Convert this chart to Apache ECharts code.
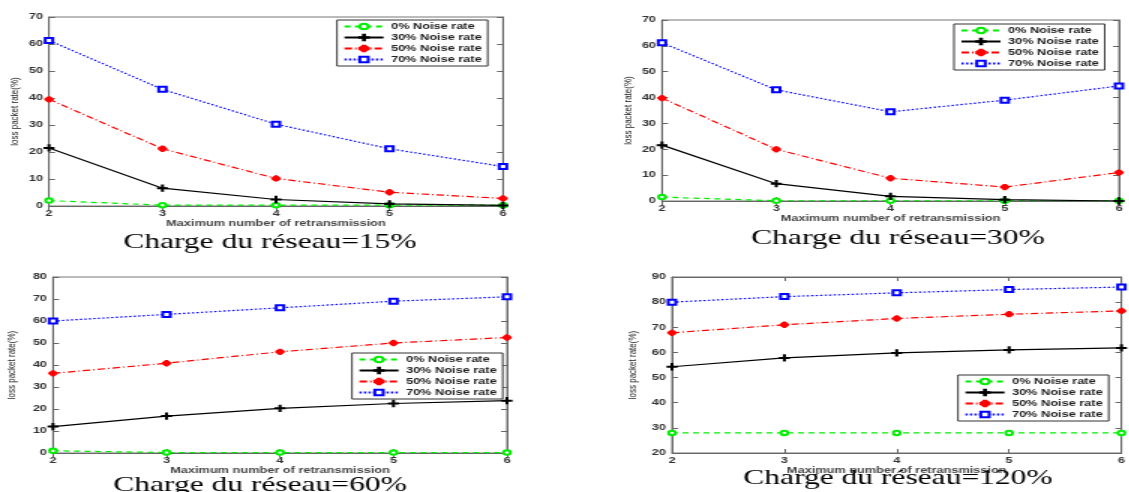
<!DOCTYPE html>
<html>
<head>
<meta charset="utf-8">
<script src="https://cdn.jsdelivr.net/npm/echarts@6/dist/echarts.min.js"></script>
<style>
  html, body { margin: 0; padding: 0; background: #fff; overflow: hidden; }
  #main { height: 492px; transform-origin: 0 0; }
</style>
</head>
<body>
<div id="main"></div>
<script>
// the figure is stretched horizontally, so draw narrow and scale on x
const SX = 1.5

const retrans = [2, 3, 4, 5, 6]
const noiseNames = ['0% Noise rate', '30% Noise rate', '50% Noise rate', '70% Noise rate']
const chartTitles = ['Charge du réseau=15%', 'Charge du réseau=30%', 'Charge du réseau=60%', 'Charge du réseau=120%']

// charge 15%
const load15_0 = [2, 0.3, 0.3, 0.3, 0.3]
const load15_30 = [21.5, 6.6, 2.4, 0.8, 0.2]
const load15_50 = [39.5, 21.2, 10.2, 5.1, 2.8]
const load15_70 = [61.3, 43.2, 30.3, 21.2, 14.6]
// charge 30%
const load30_0 = [1.5, 0.1, 0.1, 0.1, 0.1]
const load30_30 = [21.6, 6.7, 1.8, 0.5, 0]
const load30_50 = [39.8, 20, 8.8, 5.4, 11]
const load30_70 = [61.2, 43, 34.5, 39, 44.5]
// charge 60%
const load60_0 = [1, 0.2, 0.2, 0.2, 0.2]
const load60_30 = [12, 16.8, 20.3, 22.5, 23.8]
const load60_50 = [36.2, 40.8, 46, 50, 52.5]
const load60_70 = [60, 63, 66, 69, 71]
// charge 120%
const load120_0 = [28, 28, 28, 28, 28]
const load120_30 = [54.3, 57.8, 59.8, 61, 61.8]
const load120_50 = [67.8, 71, 73.5, 75.2, 76.5]
const load120_70 = [80, 82.2, 83.7, 85, 86]

const yMins = [0, 0, 0, 20]
const yMaxs = [70, 70, 80, 90]
const yStep = 10

const chartData = [
  [load15_0, load15_30, load15_50, load15_70],
  [load30_0, load30_30, load30_50, load30_70],
  [load60_0, load60_30, load60_50, load60_70],
  [load120_0, load120_30, load120_50, load120_70]
]

// layout in final (scaled) pixels: left, top, width, height
const grids = [
  [49, 17, 454, 189],
  [662, 20, 457, 181],
  [53, 277, 454, 176],
  [672, 277, 454, 176]
]
const legendPos = [[337, 20], [954, 24], [352, 353], [958, 375]]
const titlePos = [[270, 232], [898, 228], [260, 475], [898, 468]]
const yNameGap = [19, 19, 24, 22]
const xNameGap = [13, 13, 13, 12]

const crossPath = 'path://M4.4,0H5.6V4.4H10V5.6H5.6V10H4.4V5.6H0V4.4H4.4Z'
const starPath = 'path://M4.3,0H5.7V4.3H10V5.7H5.7V10H4.3V5.7H0V4.3H4.3ZM1.5,2.5L2.5,1.5L8.5,7.5L7.5,8.5ZM7.5,1.5L8.5,2.5L2.5,8.5L1.5,7.5Z'

const styles = [
  { color: '#00ee00', type: [4, 3], symbol: 'emptyCircle', size: 4.5 },
  { color: '#000000', type: 'solid', symbol: crossPath, size: 6 },
  { color: '#ff0000', type: [5, 2, 1, 2], symbol: starPath, size: 5 },
  { color: '#0000ff', type: [1.5, 1.5], symbol: 'emptyRect', size: 5 }
]

const px = v => v / SX

let option = {
  animation: false,
  backgroundColor: '#fff',
  title: [],
  legend: [],
  grid: [],
  xAxis: [],
  yAxis: [],
  series: []
}

const tickStyle = { color: '#666', width: 1 }
const labelStyle = { color: '#333', fontSize: 8.5, fontWeight: 'bold', fontFamily: 'Liberation Sans' }

for (let g = 0; g < 4; g++) {
  const [l, t, w, h] = grids[g]
  option.grid.push({
    left: px(l), top: t, width: px(w), height: h,
    show: true, borderColor: '#777', borderWidth: 1, backgroundColor: '#fff'
  })
  option.title.push({
    text: chartTitles[g],
    left: px(titlePos[g][0]),
    top: titlePos[g][1],
    textAlign: 'center',
    padding: 0,
    textStyle: { fontFamily: 'Liberation Serif', fontSize: 21, fontWeight: 'normal', color: '#000' }
  })
  option.legend.push({
    data: noiseNames,
    orient: 'vertical',
    left: px(legendPos[g][0]),
    top: legendPos[g][1],
    backgroundColor: '#fff',
    borderColor: '#333',
    borderWidth: 1,
    padding: [2, 4, 2, 4],
    itemWidth: 26,
    itemHeight: 7,
    itemGap: 2,
    selectedMode: false,
    textStyle: { fontSize: 8.5, fontWeight: 'bold', color: '#222', fontFamily: 'Liberation Sans', lineHeight: 9 }
  })
  // bottom axis with labels
  option.xAxis.push({
    type: 'value', gridIndex: g, min: 2, max: 6, interval: 1,
    name: 'Maximum number of retransmission',
    nameLocation: 'middle',
    nameGap: xNameGap[g],
    nameTextStyle: { color: '#444', fontSize: 8.5, fontWeight: 'bold', fontFamily: 'Liberation Sans' },
    axisLine: { lineStyle: tickStyle },
    axisTick: { inside: true, length: 4, lineStyle: tickStyle },
    axisLabel: Object.assign({ margin: 3 }, labelStyle),
    splitLine: { show: false }
  })
  // top mirror ticks
  option.xAxis.push({
    type: 'value', gridIndex: g, min: 2, max: 6, interval: 1, position: 'top',
    axisLine: { lineStyle: tickStyle },
    axisTick: { inside: true, length: 4, lineStyle: tickStyle },
    axisLabel: { show: false },
    splitLine: { show: false }
  })
  option.yAxis.push({
    type: 'value', gridIndex: g, min: yMins[g], max: yMaxs[g], interval: yStep,
    name: 'loss packet rate(%)',
    nameLocation: 'middle',
    nameGap: yNameGap[g],
    nameTextStyle: { color: '#222', fontSize: 8, fontFamily: 'Liberation Sans' },
    axisLine: { show: true, lineStyle: tickStyle },
    axisTick: { show: true, inside: true, length: 4, lineStyle: tickStyle },
    axisLabel: Object.assign({ margin: 4 }, labelStyle),
    splitLine: { show: false }
  })
  option.yAxis.push({
    type: 'value', gridIndex: g, min: yMins[g], max: yMaxs[g], interval: yStep, position: 'right',
    axisLine: { show: true, lineStyle: tickStyle },
    axisTick: { show: true, inside: true, length: 4, lineStyle: tickStyle },
    axisLabel: { show: false },
    splitLine: { show: false }
  })

  for (let k = 0; k < 4; k++) {
    const s = styles[k]
    option.series.push({
      name: noiseNames[k],
      type: 'line',
      xAxisIndex: g * 2,
      yAxisIndex: g * 2,
      data: retrans.map((x, i) => [x, chartData[g][k][i]]),
      symbol: s.symbol,
      symbolSize: s.size,
      showAllSymbol: true,
      z: 2 + k,
      lineStyle: { color: s.color, width: 1.2, type: s.type },
      itemStyle: { color: s.color, borderColor: s.color, borderWidth: 1.3 },
      emphasis: { disabled: true }
    })
  }
}

const el = document.getElementById('main')
el.style.width = px(1129) + 'px'
el.style.transform = 'scaleX(' + SX + ')'
let chart = echarts.init(el)
chart.setOption(option)
</script>
</body>
</html>
